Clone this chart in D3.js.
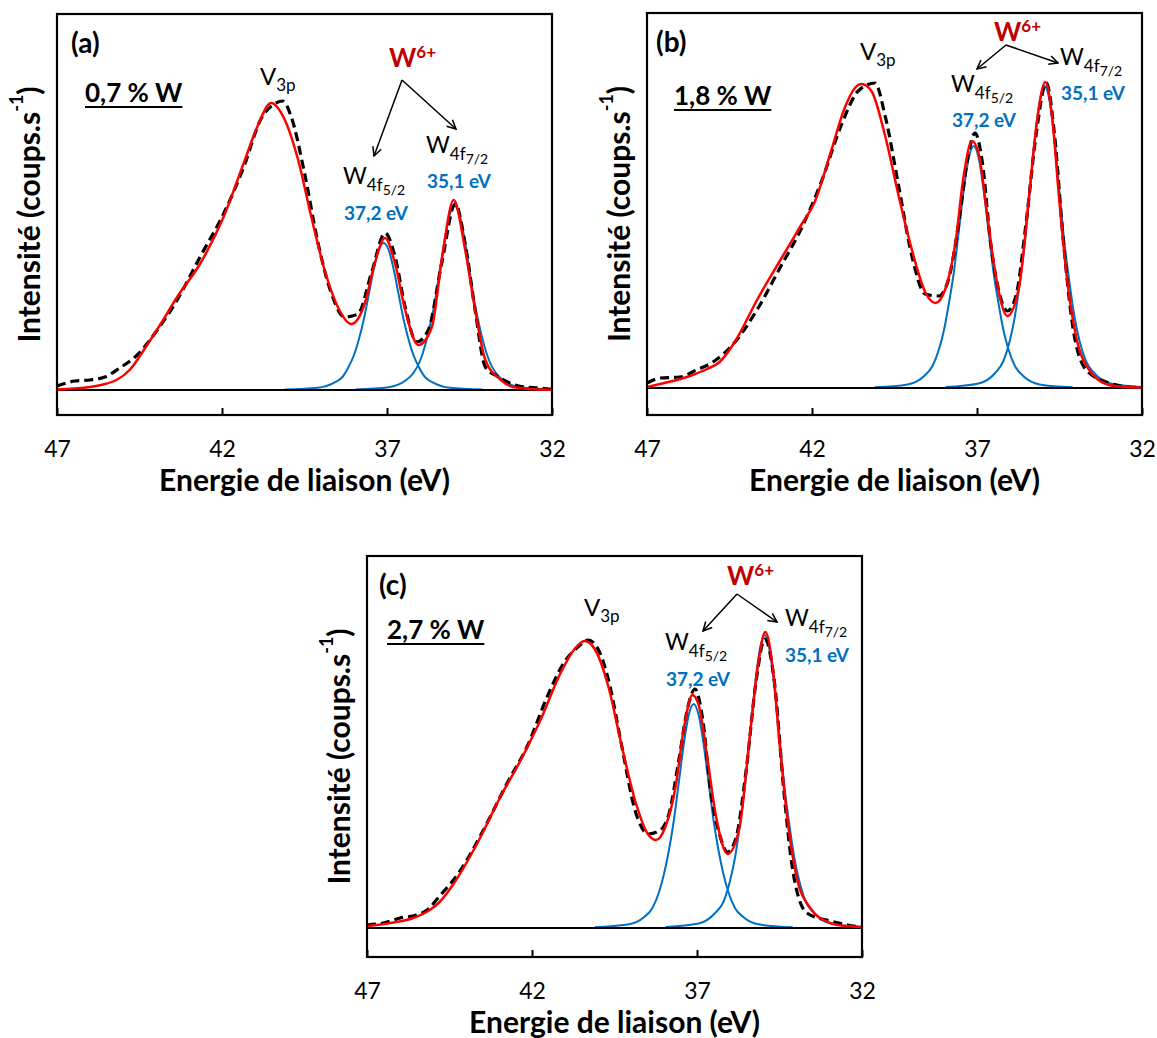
<!DOCTYPE html>
<html><head><meta charset="utf-8">
<script src="https://cdn.jsdelivr.net/npm/d3@7"></script>
<style>
body{margin:0;background:#fff}
svg{display:block}
text{font-family:Lato,'Noto Sans',sans-serif}
</style>
</head><body>
<svg id="chart" width="1157" height="1038"></svg>
<script>
// ---------- DATA (binding energy eV, intensity above background, arb. units) ----------
const tickValues = [47, 42, 37, 32];
const xDomain = [47, 32];
const panelLetters = ["(a)", "(b)", "(c)"];
const sampleLabels = ["0,7 % W", "1,8 % W", "2,7 % W"];
const peakEnergyLabels = ["37,2 eV", "35,1 eV"];

// experimental spectra (dashed)
const expA = [[47,4],[46.91,5],[46.46,9],[46.0,10],[45.55,13],[45.1,22],[44.57,35],[43.96,60],[43.36,90],[42.65,134],[41.94,177],[41.33,224],[40.82,271],[40.41,286],[40.16,289],[39.91,274],[39.5,217],[39.09,147],[38.69,97],[38.28,73],[37.88,76],[37.47,117],[37.06,157],[36.76,134],[36.45,83],[36.1,48],[35.75,60],[35.34,127],[34.93,186],[34.63,146],[34.33,80],[34.02,23],[33.61,13],[33.0,4],[32.4,2],[32.0,0.7]];
const expB = [[47,5],[46.6,10],[46.0,11],[45.5,18],[45.0,26],[44.36,45],[43.65,79],[42.94,122],[42.33,159],[41.72,206],[41.11,263],[40.6,297],[40.09,305],[39.79,273],[39.38,203],[38.98,133],[38.57,94],[38.16,92],[37.86,109],[37.55,166],[37.3,226],[37.06,255],[36.84,226],[36.59,146],[36.33,96],[36.08,77],[35.82,92],[35.52,163],[35.21,253],[34.9,305],[34.65,253],[34.4,153],[34.1,62],[33.69,18],[33.0,5],[32.4,1],[32,0.5]];
const expC = [[47,3],[46.5,5],[46.0,10],[45.5,13],[45.1,20],[44.9,28],[44.18,57],[43.47,98],[42.75,145],[42.14,182],[41.53,232],[41.02,266],[40.61,281],[40.3,288],[40.0,279],[39.69,249],[39.28,182],[38.88,118],[38.47,94],[38.11,98],[37.85,114],[37.55,168],[37.29,219],[37.06,239],[36.83,209],[36.58,135],[36.32,94],[36.07,76],[35.81,91],[35.51,158],[35.2,249],[34.95,289],[34.64,242],[34.38,141],[34.08,54],[33.67,15],[32.96,7],[32.44,3],[32,1]];

// fitted envelopes (red)
const fitA = [[47,0.5],[46.5,1.5],[46.0,3],[45.6,5.5],[45.2,10],[44.8,20],[44.27,45],[43.86,66],[43.36,93],[42.65,127],[41.94,174],[41.33,228],[40.92,264],[40.51,287],[40.11,271],[39.7,231],[39.3,174],[38.89,120],[38.49,83],[38.08,66],[37.67,87],[37.37,127],[37.06,152],[36.76,127],[36.45,80],[36.05,45],[35.64,63],[35.34,130],[34.98,190],[34.63,140],[34.33,80],[34.02,30],[33.55,10],[33.18,3],[32.67,1],[32,0.3]];
const fitB = [[47,1],[46.6,4],[45.7,12],[45.18,19],[44.8,26],[44.36,45],[43.65,89],[42.94,129],[42.33,163],[41.92,186],[41.42,237],[41.01,280],[40.7,300],[40.5,304],[40.2,297],[39.79,253],[39.38,193],[38.98,139],[38.57,96],[38.26,85],[37.96,99],[37.65,146],[37.4,213],[37.15,247],[36.94,233],[36.69,173],[36.43,112],[36.08,72],[35.72,102],[35.42,193],[35.17,270],[34.93,306],[34.72,270],[34.52,193],[34.26,106],[34.0,52],[33.6,18],[33.0,3],[32.5,1],[32,0.5]];
const fitC = [[47,2],[46.3,5],[45.6,10],[45.1,18],[44.8,26],[44.38,44],[43.67,84],[42.96,131],[42.34,168],[41.73,209],[41.12,256],[40.71,279],[40.41,287],[40.1,279],[39.69,242],[39.28,182],[38.88,128],[38.47,93],[38.24,88],[37.96,101],[37.65,141],[37.4,199],[37.14,233],[36.94,222],[36.68,168],[36.42,111],[36.07,74],[35.71,101],[35.4,192],[35.15,263],[34.93,296],[34.69,256],[34.49,182],[34.23,101],[33.98,51],[33.57,20],[32.96,5],[32.5,2],[32,1]];

// W 4f components (blue)
const w52Energy = [40.1,39.1,38.6,38.35,38.15,38.0,37.85,37.7,37.55,37.4,37.25,37.1,36.95,36.8,36.65,36.5,36.35,36.2,36.05,35.85,35.6,35.1,34.1];
const w72Energy = [37.95,36.95,36.45,36.2,36.0,35.85,35.7,35.55,35.4,35.25,35.1,34.95,34.8,34.65,34.5,34.35,34.2,34.05,33.9,33.7,33.45,32.95,32.0];
const w52A = [0.4,2.2,7.4,13,24,35,51,71,96,121,140,147,140,121,96,71,51,35,24,13,7.4,2.2,0.4];
const w72A = [0.6,2.8,9.2,17,29,44,64,88,120,151,175,184,175,151,120,88,64,44,29,17,9.2,2.8,0.6];
const w52B = [0.7,3.6,12,22,39,58,85,116,157,198,230,242,230,198,157,116,85,58,39,22,12,3.6,0.7];
const w72B = [0.9,4.5,15,27,48,72,106,145,196,248,287,302,287,248,196,145,106,72,48,27,15,4.5,0.9];
const w52C = [0.7,3.4,11,20,36,54,78,108,146,184,213,224,213,184,146,108,78,54,36,20,11,3.4,0.7];
const w72C = [0.9,4.4,15,26,47,70,103,141,190,240,278,293,278,240,190,141,103,70,47,26,15,4.4,0.9];

// background (black)
const background = [[47,0],[32,0]];

// ---------- LAYOUT ----------
const W = 495;
const panels = [
  {left:57, top:14, h:401, baseOff:25, exp:expA, fit:fitA, w52:w52A, w72:w72A,
   letter:[14,39], sample:[28,88], v3p:[203,71], w6:[332,53],
   arrow:{o:[345,66], l:[317,142], r:[399,115]}, l52:[286,170], e52:[287,206], l72:[369,139], e72:[370,174]},
  {left:647, top:13, h:402, baseOff:27, exp:expB, fit:fitB, w52:w52B, w72:w72B,
   letter:[9,39], sample:[27,92], v3p:[213,47], w6:[347,28],
   arrow:{o:[359,32], l:[330,56], r:[411,50]}, l52:[304,79], e52:[305,114], l72:[413,52], e72:[414,87]},
  {left:367, top:556, h:401, baseOff:29, exp:expC, fit:fitC, w52:w52C, w72:w72C,
   letter:[12,39], sample:[20,83], v3p:[217,60], w6:[360,29],
   arrow:{o:[370,38], l:[336,75], r:[410,66]}, l52:[298,94], e52:[299,130], l72:[418,70], e72:[418,106]}
];

const svg = d3.select("#chart");
const defs = svg.append("defs");
defs.append("marker").attr("id","arr").attr("viewBox","0 0 10 10")
  .attr("refX",9).attr("refY",5).attr("markerWidth",11).attr("markerHeight",11)
  .attr("markerUnits","userSpaceOnUse").attr("orient","auto")
  .append("path").attr("d","M1,1 L9,5 L1,9").attr("fill","none").attr("stroke","#000").attr("stroke-width",1.4);

panels.forEach((p, i) => {
  const H = p.h;
  const g = svg.append("g").attr("transform", `translate(${p.left},${p.top})`);
  const x = d3.scaleLinear().domain(xDomain).range([0, W]);
  const y = d3.scaleLinear().domain([-p.baseOff, H - p.baseOff]).range([H, 0]);
  const line = d3.line().x(d => x(d[0])).y(d => y(d[1])).curve(d3.curveMonotoneX);

  defs.append("clipPath").attr("id","clip"+i).append("rect").attr("width",W).attr("height",H);
  const plot = g.append("g").attr("clip-path",`url(#clip${i})`);

  const c52 = w52Energy.map((e, k) => [e, p.w52[k]]);
  const c72 = w72Energy.map((e, k) => [e, p.w72[k]]);
  [c52, c72].forEach(c => plot.append("path").datum(c).attr("d", line)
    .attr("fill","none").attr("stroke","#0070c0").attr("stroke-width",2));
  plot.append("path").datum(background).attr("d", line)
    .attr("fill","none").attr("stroke","#000").attr("stroke-width",2);
  plot.append("path").datum(p.exp).attr("d", line)
    .attr("fill","none").attr("stroke","#000").attr("stroke-width",3.2).attr("stroke-dasharray","9,5");
  plot.append("path").datum(p.fit).attr("d", line)
    .attr("fill","none").attr("stroke","#ff0000").attr("stroke-width",2.5);

  // frame
  g.append("rect").attr("width",W).attr("height",H).attr("fill","none").attr("stroke","#000").attr("stroke-width",2.2);

  // x axis
  const ax = g.append("g").attr("transform",`translate(0,${H})`)
    .call(d3.axisBottom(x).tickValues(tickValues).tickFormat(d3.format("d")).tickSizeInner(-7).tickSizeOuter(0).tickPadding(26));
  ax.select(".domain").remove();
  ax.selectAll("line").attr("stroke","#000").attr("stroke-width",2);
  ax.selectAll("text").attr("font-family","Lato").attr("font-size",23).attr("fill","#000");

  g.append("text").attr("x",W/2).attr("y",H+76).attr("text-anchor","middle")
    .attr("font-size",30).attr("font-weight","bold").text("Energie de liaison (eV)");

  const yt = g.append("text").attr("transform",`translate(-29,${H/2}) rotate(-90)`)
    .attr("text-anchor","middle").attr("dominant-baseline","central")
    .attr("font-size",30).attr("font-weight","bold");
  yt.append("tspan").text("Intensité (coups.s");
  yt.append("tspan").attr("font-size",18).attr("dy",-12).text("-1");
  yt.append("tspan").attr("dy",12).text(")");

  // annotations
  g.append("text").attr("x",p.letter[0]).attr("y",p.letter[1]).attr("font-size",28).attr("font-weight","bold").text(panelLetters[i]);
  const st = g.append("text").attr("x",p.sample[0]).attr("y",p.sample[1]).attr("font-size",26).attr("font-weight","bold").text(sampleLabels[i]);
  const sl = st.node().getComputedTextLength();
  g.append("line").attr("x1",p.sample[0]).attr("x2",p.sample[0]+sl).attr("y1",p.sample[1]+5).attr("y2",p.sample[1]+5)
    .attr("stroke","#000").attr("stroke-width",2);

  const v = g.append("text").attr("x",p.v3p[0]).attr("y",p.v3p[1]).attr("font-size",24);
  v.append("tspan").text("V");
  v.append("tspan").attr("font-size",17).attr("dy",6).text("3p");

  const w6 = g.append("text").attr("x",p.w6[0]).attr("y",p.w6[1]).attr("font-size",26).attr("font-weight","bold").attr("fill","#c00000");
  w6.append("tspan").text("W");
  w6.append("tspan").attr("font-size",17).attr("dy",-9).text("6+");

  [p.arrow.l, p.arrow.r].forEach(t => g.append("line")
    .attr("x1",p.arrow.o[0]).attr("y1",p.arrow.o[1]).attr("x2",t[0]).attr("y2",t[1])
    .attr("stroke","#000").attr("stroke-width",1.5).attr("marker-end","url(#arr)"));

  const wl = (pos, sub) => {
    const t = g.append("text").attr("x",pos[0]).attr("y",pos[1]).attr("font-size",23);
    t.append("tspan").text("W");
    t.append("tspan").attr("font-size",17).attr("dy",7).text("4f");
    t.append("tspan").attr("font-size",14).attr("dy",4).text(sub);
  };
  wl(p.l52, "5/2");
  wl(p.l72, "7/2");
  g.append("text").attr("x",p.e52[0]).attr("y",p.e52[1]).attr("font-size",19).attr("font-weight","bold").attr("fill","#0070c0").text(peakEnergyLabels[0]);
  g.append("text").attr("x",p.e72[0]).attr("y",p.e72[1]).attr("font-size",19).attr("font-weight","bold").attr("fill","#0070c0").text(peakEnergyLabels[1]);
});
</script>
</body></html>
